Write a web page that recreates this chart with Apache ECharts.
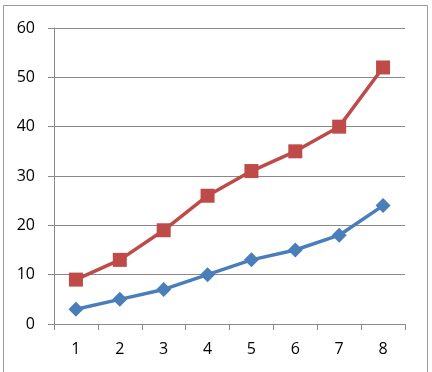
<!DOCTYPE html>
<html>
<head>
<meta charset="utf-8">
<style>
  html, body { margin: 0; padding: 0; background: #fff; }
  #chart { width: 432px; height: 372px; }
</style>
<script src="https://cdn.jsdelivr.net/npm/echarts@6/dist/echarts.min.js"></script>
</head>
<body>
<div id="chart"></div>
<script>
var categories = ['1', '2', '3', '4', '5', '6', '7', '8'];
var blueValues = [3, 5, 7, 10, 13, 15, 18, 24];
var redValues = [9, 13, 19, 26, 31, 35, 40, 52];
var yTicks = [0, 10, 20, 30, 40, 50, 60];

var gridColor = '#898989';
var labelFont = '"Open Sans", Lato, sans-serif';

var chart = echarts.init(document.getElementById('chart'));

chart.setOption({
	animation: false,
	backgroundColor: '#ffffff',
	graphic: [
		{
			// outer frame of the chart area
			type: 'rect',
			shape: { x: 3.5, y: 5.5, width: 424, height: 380 },
			style: { fill: 'none', stroke: '#9a9a9a', lineWidth: 1 },
			silent: true
		}
	],
	grid: {
		left: 54,
		right: 27,
		top: 28,
		bottom: 48
	},
	xAxis: {
		type: 'category',
		data: categories,
		boundaryGap: true,
		axisLine: { lineStyle: { color: gridColor, width: 1 } },
		axisTick: { show: true, length: 6, lineStyle: { color: gridColor } },
		axisLabel: {
			color: '#000',
			fontSize: 16,
			fontFamily: labelFont,
			margin: 17
		},
		splitLine: { show: false }
	},
	yAxis: {
		type: 'value',
		min: yTicks[0],
		max: yTicks[yTicks.length - 1],
		interval: 10,
		axisLine: { show: true, lineStyle: { color: gridColor, width: 1 } },
		axisTick: { show: true, length: 6, lineStyle: { color: gridColor } },
		axisLabel: {
			color: '#000',
			fontSize: 16,
			fontFamily: labelFont,
			margin: 19
		},
		splitLine: { show: true, lineStyle: { color: gridColor, width: 1 } }
	},
	series: [
		{
			name: 'blue',
			type: 'line',
			data: blueValues,
			symbol: 'diamond',
			symbolSize: 15,
			lineStyle: { color: '#4A7EBB', width: 3.5 },
			itemStyle: { color: '#4A7EBB' },
			z: 3
		},
		{
			name: 'red',
			type: 'line',
			data: redValues,
			symbol: 'rect',
			symbolSize: 14,
			lineStyle: { color: '#BE4B48', width: 3.5 },
			itemStyle: { color: '#BE4B48' },
			z: 4
		}
	]
});
</script>
</body>
</html>
